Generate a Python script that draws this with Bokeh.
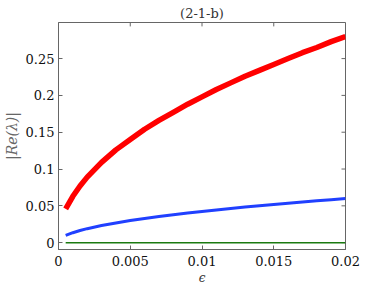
from bokeh.plotting import figure
from bokeh.embed import file_html
from bokeh.resources import INLINE
from bokeh.models import LinearAxis, Range1d, FixedTicker, Title

# data
eps = [0.0005, 0.001, 0.0015, 0.002, 0.003, 0.004, 0.005, 0.006, 0.007, 0.008, 0.009,
       0.010, 0.011, 0.012, 0.013, 0.014, 0.015, 0.016, 0.017, 0.018, 0.019, 0.020]
red_vals = [0.046, 0.063, 0.077, 0.089, 0.109, 0.126, 0.140, 0.154, 0.166, 0.177, 0.188,
            0.198, 0.208, 0.217, 0.226, 0.234, 0.242, 0.250, 0.258, 0.265, 0.273, 0.280]
blue_vals = [0.0098, 0.0135, 0.0165, 0.0190, 0.0232, 0.0268, 0.0300, 0.0328, 0.0355, 0.0379, 0.0402,
             0.0424, 0.0445, 0.0464, 0.0483, 0.0502, 0.0519, 0.0536, 0.0553, 0.0569, 0.0584, 0.0600]
green_vals = [0.0] * len(eps)

x_ticks = [0, 0.005, 0.01, 0.015, 0.02]
x_labels = ["0", "0.005", "0.01", "0.015", "0.02"]
y_ticks = [0, 0.05, 0.1, 0.15, 0.2, 0.25]
y_labels = ["0", "0.05", "0.1", "0.15", "0.2", "0.25"]

X0, X1 = 0.0, 0.02
Y0, Y1 = -0.0093, 0.299

FONT = "DejaVu Serif"
AX = "#666666"

p = figure(width=382, height=287, output_backend="svg", toolbar_location=None,
           x_range=Range1d(X0, X1), y_range=Range1d(Y0, Y1),
           min_border_left=58, min_border_right=37, min_border_top=22, min_border_bottom=33,
           x_axis_location=None, y_axis_location=None)
p.title = Title(text="(2-1-b)", align="center", vertical_align="top", text_font=FONT,
                text_font_size="13px", text_font_style="normal", text_color="#333333",
                offset=0, standoff=0)
p.grid.visible = False
p.outline_line_color = AX
p.background_fill_color = "white"
p.border_fill_color = "white"

def style_axis(ax, labels):
    ax.axis_line_color = AX
    ax.major_tick_line_color = AX
    ax.major_tick_in = 4
    ax.major_tick_out = 0
    ax.minor_tick_line_color = None
    ax.major_label_text_font = FONT
    ax.major_label_text_font_size = "13px"
    ax.major_label_text_color = "#111111"
    ax.major_label_overrides = labels

xb = LinearAxis(ticker=FixedTicker(ticks=x_ticks))
style_axis(xb, {t: l for t, l in zip(x_ticks, x_labels)})
xb.axis_label = "ϵ"
xb.axis_label_text_font = FONT
xb.axis_label_text_font_size = "12px"
xb.axis_label_text_font_style = "italic"
xb.axis_label_text_color = "#333333"
xb.axis_label_standoff = 2
xb.major_label_standoff = 6
p.add_layout(xb, "below")

yl = LinearAxis(ticker=FixedTicker(ticks=y_ticks))
style_axis(yl, {t: l for t, l in zip(y_ticks, y_labels)})
yl.axis_label = "|Re(λ)|"
yl.axis_label_text_font = FONT
yl.axis_label_text_font_size = "14px"
yl.axis_label_text_font_style = "italic"
yl.axis_label_text_color = "#666666"
yl.axis_label_standoff = 3
yl.major_label_standoff = 4
p.add_layout(yl, "left")

# inward ticks on the top and right edges of the box
tx = (Y1 - Y0) * 4 / 232.0
ty = (X1 - X0) * 4 / 287.0
p.segment(x0=x_ticks, y0=[Y1] * len(x_ticks), x1=x_ticks, y1=[Y1 - tx] * len(x_ticks),
          line_color=AX, line_width=1)
p.segment(x0=[X1] * len(y_ticks), y0=y_ticks, x1=[X1 - ty] * len(y_ticks), y1=y_ticks,
          line_color=AX, line_width=1)

p.line(eps, green_vals, line_color="#1a7a10", line_width=1.5)
p.line(eps, blue_vals, line_color="#2040ff", line_width=3, line_join="round")
p.line(eps, red_vals, line_color="#ff0000", line_width=5.5, line_join="round")

open("out.html", "w").write(file_html(p, INLINE))
